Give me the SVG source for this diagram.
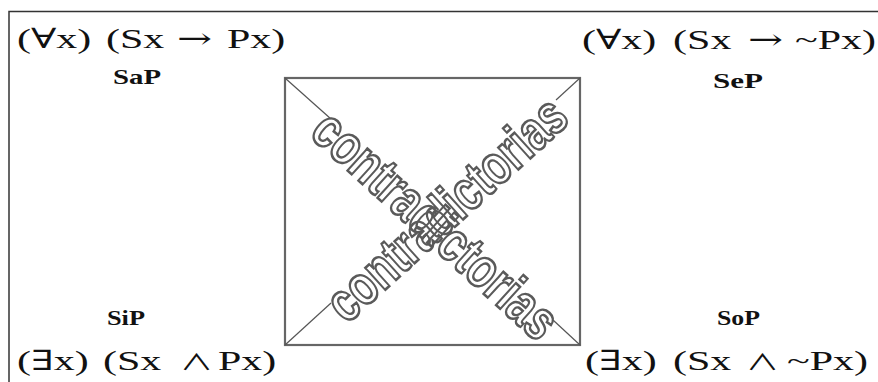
<svg xmlns="http://www.w3.org/2000/svg" width="878" height="382" viewBox="0 0 878 382">
<style>
.f{font-family:"Liberation Serif","DejaVu Serif","Times New Roman",serif;font-size:28px;fill:#111}
.s{font-family:"DejaVu Serif","Liberation Serif",serif;font-weight:normal}
.a{font-family:"Noto Sans CJK JP","DejaVu Serif",serif;font-size:22px}
.l{font-family:"Liberation Serif","Times New Roman",serif;font-size:22px;font-weight:bold;fill:#111}
.w{font-family:"Liberation Sans",Arial,sans-serif;font-size:56px;font-weight:bold;fill:none;stroke:#5a5a5a;stroke-width:2.6;text-anchor:middle}
.d{stroke:#555;stroke-width:1.2;fill:none}
</style>
<rect width="878" height="382" fill="#fff"/>
<path d="M9,382 V11.5 H878" fill="none" stroke="#333" stroke-width="1.5"/>
<g id="square">
<rect x="285" y="78" width="295" height="267" fill="none" stroke="#666" stroke-width="2.2"/>
</g>
<g id="connectors">
<line class="d" x1="285" y1="78" x2="331" y2="119"/>
<line class="d" x1="553" y1="320" x2="580" y2="345"/>
<line class="d" x1="285" y1="345" x2="331" y2="303"/>
<line class="d" x1="556" y1="100" x2="580" y2="78"/>
</g>
<g id="diag1">
<text class="w" transform="translate(423,239) rotate(42.15)" x="0" y="0" textLength="310" lengthAdjust="spacingAndGlyphs">contradictorias</text>
</g>
<g id="diag2">
<text class="w" transform="translate(459,223) rotate(-42.15)" x="0" y="0" textLength="303" lengthAdjust="spacingAndGlyphs">contradictorias</text>
</g>
<g id="SaP">
<text class="f" transform="translate(17,47.5) scale(1.5,1)"><tspan x="0">(<tspan class="s">∀</tspan>x)</tspan><tspan x="59.3">(Sx</tspan><tspan class="s" x="106.7">→</tspan><tspan x="140">Px)</tspan></text>
<text class="l" x="113" y="84" textLength="48" lengthAdjust="spacingAndGlyphs">SaP</text>
</g>
<g id="SeP">
<text class="f" transform="translate(582,49) scale(1.5,1)"><tspan x="0">(<tspan class="s">∀</tspan>x)</tspan><tspan x="60.7">(Sx</tspan><tspan class="s" x="110.7">→</tspan><tspan x="142">~Px)</tspan></text>
<text class="l" x="713" y="88" textLength="50" lengthAdjust="spacingAndGlyphs">SeP</text>
</g>
<g id="SiP">
<text class="l" x="107" y="325" textLength="38" lengthAdjust="spacingAndGlyphs">SiP</text>
<text class="f" transform="translate(17,370) scale(1.5,1)"><tspan x="0">(<tspan class="s">∃</tspan>x)</tspan><tspan x="57.3">(Sx</tspan><tspan class="a" x="108.7">∧</tspan><tspan x="134">Px)</tspan></text>
</g>
<g id="SoP">
<text class="l" x="717" y="325" textLength="43" lengthAdjust="spacingAndGlyphs">SoP</text>
<text class="f" transform="translate(585,370) scale(1.5,1)"><tspan x="0">(<tspan class="s">∃</tspan>x)</tspan><tspan x="58.7">(Sx</tspan><tspan class="a" x="107.3">∧</tspan><tspan x="134.7">~Px)</tspan></text>
</g>
</svg>
